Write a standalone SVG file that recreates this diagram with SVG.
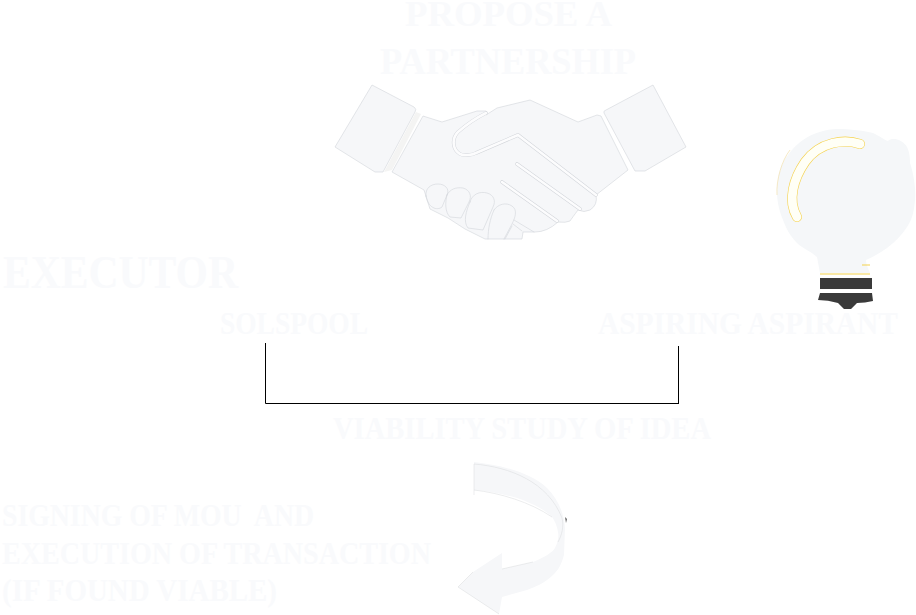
<svg xmlns="http://www.w3.org/2000/svg" width="916" height="615" viewBox="0 0 916 615">
<style>
.t{font-family:"Liberation Serif","Times New Roman",serif;font-weight:700;fill:#f9fafc}
.s{fill:#f6f7f9;stroke:#d2d5da;stroke-width:.6;stroke-linejoin:round}
.l{fill:none;stroke:#d2d5da;stroke-width:.6;stroke-linecap:round;stroke-linejoin:round}
.g{fill:none;stroke:#d2d5da;stroke-width:3.600;stroke-linecap:round;stroke-linejoin:round}
.w{fill:none;stroke:#fcfcfd;stroke-width:2.600;stroke-linecap:round;stroke-linejoin:round}
.c{fill:none;stroke:#000;stroke-width:1}
</style>
<rect width="916" height="615" fill="#fff"/>
<g id="node-propose">
<text class="t" x="405" y="26" font-size="36" textLength="207" lengthAdjust="spacingAndGlyphs">PROPOSE A</text>
<text class="t" x="380" y="74" font-size="37" textLength="256" lengthAdjust="spacingAndGlyphs">PARTNERSHIP</text>
</g>
<g id="node-handshake">
<path class="s" d="M372 85L414 107Q417 109 415 112L383 172L375 172L335 147Z"/>
<path class="s" d="M653 85L686 147L645 171L635 171L604 113Q603 111 606 110Z"/>
<path fill="#f4f4f3" d="M416 112L421 114L392 170L384 172Z"/>
<path class="s" d="M423 116L442 122L477 111L486 111Q488 113 486 115L497 108L530 100L578 122L597 115L601 116L628 170L596 195Q598 205 590 210Q584 213 578 210Q572 218 570 221Q566 223 558 222Q547 232 535 232L523 232L522 239L485 239L465 229L448 218L430 209L424 190L392 172Z"/>
<path class="g" d="M486 113C476 118 466 125 458 132C451 139 453 150 460 154C464 156 472 155 476 153L518 135L596 195"/>
<path class="w" d="M486 113C476 118 466 125 458 132C451 139 453 150 460 154C464 156 472 155 476 153L518 135L596 195"/>
<path class="g" d="M517 164L580 209M502 182L557 221"/>
<path class="w" d="M517 164L580 209M502 182L557 221"/>
<path class="l" d="M514 220L534 232"/>
<path class="l" d="M426 196C425 188 431 184 438 184C445 184 450 189 447 195L442 207C437 211 428 208 426 196Z"/>
<path class="l" d="M447 195C450 189 456 187 463 188C470 190 472 196 469 202L461 218L450 217C445 212 445 203 447 195Z"/>
<path class="l" d="M470 202C472 194 480 191 487 193C494 195 496 201 493 207L483 230L468 228C463 222 466 211 470 202Z"/>
<path class="l" d="M494 210C498 204 506 202 512 206C518 210 515 218 512 224L504 239M494 210C490 219 488 229 488 239"/>
<path class="l" d="M513 224L522 231M512 226L505 239"/>
</g>
<g id="node-bulb">
<path fill="#f5f7f9" d="M837 129C850 129 865 131 873 133C880 136 884 140 888 141C892 137 902 139 907 147C910 153 910 160 910 163C914 175 916 190 915 200C914 212 912 220 907 227C902 235 895 242 887 248C880 253 873 257 866 260C866 265 869 270 870 273L820 273C819 268 818 262 817 257C810 251 802 248 797 243C790 236 786 228 783 220C779 211 777 200 777 193C777 180 779 170 783 163C788 153 796 145 803 140C813 133 826 129 837 129Z"/>
<path d="M790 150C782 160 776 180 777 195" fill="none" stroke="#f3e3b8" stroke-width=".8"/>
<path fill="none" stroke="#f5d34f" stroke-width="10" stroke-linecap="round" d="M860 144C845 139 820 141 805 162C794 178 787 200 797 217"/>
<path fill="none" stroke="#fffff6" stroke-width="8.800" stroke-linecap="round" d="M860 144C845 139 820 141 805 162C794 178 787 200 797 217"/>
<path d="M820 274H870M862 265H870" fill="none" stroke="#f5d34f" stroke-width="1.200"/>
<rect x="820" y="278" width="52" height="11" fill="#3a3a3a"/>
<path fill="#3a3a3a" d="M820 293L872 293L873 301Q865 303 857 303L851 309L844 309L838 303Q828 300 818 300Z"/>
</g>
<g id="node-executor"><text class="t" x="3" y="288" font-size="47" textLength="235" lengthAdjust="spacingAndGlyphs">EXECUTOR</text></g>
<g id="node-solspool"><text class="t" x="220" y="334" font-size="31" textLength="148" lengthAdjust="spacingAndGlyphs">SOLSPOOL</text></g>
<g id="node-aspirant"><text class="t" x="598" y="334" font-size="31" textLength="300" lengthAdjust="spacingAndGlyphs">ASPIRING ASPIRANT</text></g>
<g id="connectors">
<path class="c" d="M265.500 343V403.500H679M678.500 346V403.500"/>
</g>
<g id="node-viability"><text class="t" x="333" y="439" font-size="31" textLength="378" lengthAdjust="spacingAndGlyphs">VIABILITY STUDY OF IDEA</text></g>
<g id="node-arrow">
<path fill="#f6f7f9" d="M474 462C500 465 530 472 547 488C558 499 564 513 565 528L564 555C561 566 558 570 553 575C545 583 535 587 527 590L502 597L499 614L458 587L473 572L502 553L502 569L533 562C545 557 553 552 555 548C558 542 559 537 558 532C557 526 555 521 552 517C545 510 535 505 523 500C508 495 490 491 474 490Z"/>
<path fill="none" stroke="#d8dadd" stroke-width=".5" d="M474 464V495M474 464C510 467 548 482 562 518C564 526 562 535 558 542M474 495"/>
<path fill="none" stroke="#d8dadd" stroke-width=".5" d="M474 490C500 493 530 502 552 517M502 569L533 562M458 587L499 614M458 587L473 572"/>
<path d="M565 517L567 519L566 523Z" fill="#666"/>
</g>
<g id="node-signing">
<text class="t" x="2" y="526" font-size="31" textLength="312" lengthAdjust="spacingAndGlyphs" xml:space="preserve">SIGNING OF MOU  AND</text>
<text class="t" x="2" y="564" font-size="31" textLength="429" lengthAdjust="spacingAndGlyphs">EXECUTION OF TRANSACTION</text>
<text class="t" x="2" y="601" font-size="31" textLength="275" lengthAdjust="spacingAndGlyphs">(IF FOUND VIABLE)</text>
</g>
</svg>
